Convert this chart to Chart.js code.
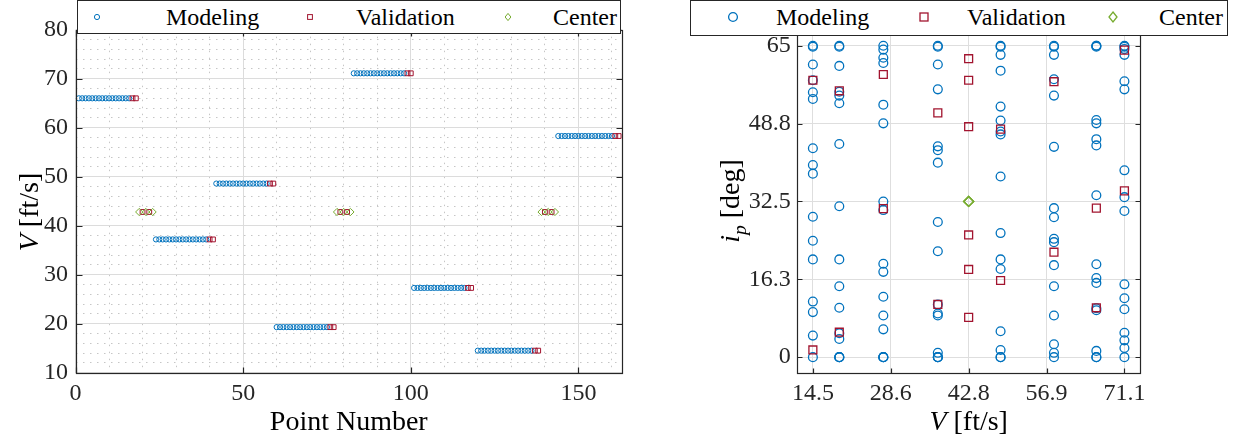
<!DOCTYPE html>
<html>
<head>
<meta charset="utf-8">
<script src="https://cdn.jsdelivr.net/npm/chart.js@4.4.1/dist/chart.umd.min.js"></script>
<style>
  html, body { margin: 0; padding: 0; background: #fff; }
  body { position: relative; width: 1238px; height: 444px; overflow: hidden; font-family: "Liberation Serif", serif; }
  canvas { position: absolute; top: 0; }
  #leftChart { left: 0; }
  #rightChart { left: 680px; }
  .legend { position: absolute; top: 0; box-sizing: border-box; border: 1.3px solid #262626; background: #fff; }
  .legend svg { position: absolute; overflow: visible; }
  .legend span { position: absolute; font-size: 24px; line-height: 24px; color: #000; white-space: nowrap; }
</style>
</head>
<body>
<canvas id="leftChart" width="640" height="444"></canvas>
<canvas id="rightChart" width="558" height="444"></canvas>
<div class="legend" id="legendLeft" style="left:77px;width:544px;height:34px;"></div>
<div class="legend" id="legendRight" style="left:690px;width:538px;height:36px;"></div>
<script>
// ---- DATA ----
const leftXTicks = [0, 50, 100, 150];
const leftYTicks = [10, 20, 30, 40, 50, 60, 70, 80];
const leftXMinor = [10, 20, 30, 40, 60, 70, 80, 90, 110, 120, 130, 140, 160];
const leftYMinor = [12, 14, 16, 18, 22, 24, 26, 28, 32, 34, 36, 38, 42, 44, 46, 48,
  52, 54, 56, 58, 62, 64, 66, 68, 72, 74, 76, 78];
const rightXTicks = [14.5, 28.65, 42.8, 56.95, 71.1];
const rightXLabels = ["14.5", "28.6", "42.8", "56.9", "71.1"];
const rightYTicks = [0, 16.25, 32.5, 48.75, 65];
const rightYLabels = ["0", "16.3", "32.5", "48.8", "65"];

// run order of the test blocks (left chart)
const blockV = [66.0, 37.2, 48.6, 19.3, 71.1, 27.3, 14.5, 58.3];
const blockModelFirst = [1, 24, 42, 60, 83, 101, 120, 144];
const blockModelLast = [16, 39, 57, 75, 98, 116, 136, 160];
const blockValidPts = [[17, 18], [40, 41], [58, 59], [76, 77], [99, 100], [117, 118], [137, 138], [161, 162]];
const centerV = 42.8;
const centerPts = [19, 21, 23, 78, 80, 82, 139, 141, 143];
const centerValidPts = [20, 22, 79, 81, 140, 142];

// propeller incidence per speed (right chart)
const speedLevels = [14.5, 19.3, 27.3, 37.2, 48.6, 58.3, 66.0, 71.1];
const modelIp = [
  [65, 64.8, 61.1, 57.8, 55.3, 53.9, 43.6, 40.1, 38.3, 29.3, 24.3, 20.4, 11.6, 9.4, 4.5, 0],
  [65, 64.8, 60.8, 55.4, 54.6, 53.0, 44.5, 31.5, 20.4, 14.8, 10.3, 5.0, 3.8, 0, 0, 0],
  [65, 64.2, 62.5, 61.4, 52.7, 48.8, 32.5, 30.7, 19.5, 17.8, 12.6, 8.7, 5.8, 0, 0, 0],
  [65, 64.8, 61.1, 55.9, 44.0, 43.2, 40.6, 28.2, 22.1, 11.0, 9.1, 8.7, 0.9, 0, 0, 0],
  [65, 64.8, 63.1, 59.8, 52.3, 49.4, 47.1, 46.5, 37.7, 25.9, 20.4, 18.4, 5.4, 1.5, 0, 0],
  [65, 64.8, 63.1, 58.0, 54.6, 43.9, 31.1, 29.2, 24.7, 24.0, 19.2, 14.8, 8.7, 2.7, 0.9, 0],
  [65, 65, 64.8, 49.5, 48.8, 45.5, 44.2, 33.8, 19.4, 16.5, 15.5, 10.2, 9.8, 1.3, 0, 0],
  [65, 64.8, 64.3, 63.1, 57.6, 55.9, 39.0, 33.4, 30.5, 15.2, 12.3, 10.0, 5.1, 3.5, 1.9, 0],
];
const validIp = [[57.8, 1.5], [55.6, 5.2], [59.0, 31.0], [51.0, 11.0], [47.6, 16.0], [57.5, 21.9], [31.1, 10.3], [64.1, 34.7]];
const centerIp = [32.5, 32.5, 32.5];
const centerValidIp = [62.3, 57.8, 48.1, 25.5, 18.3, 8.3];

const BLUE = "#0072BD", RED = "#A2142F", GREEN = "#77AC30";
const INK = "#262626";
const FONT = '"Liberation Serif", serif';

// ---- build point lists ----
const leftModel = [];
blockV.forEach((v, b) => {
  for (let p = blockModelFirst[b]; p <= blockModelLast[b]; p++) leftModel.push({ x: p, y: v });
});
const leftValid = [];
blockValidPts.forEach((pts, b) => pts.forEach((p) => leftValid.push({ x: p, y: blockV[b] })));
centerValidPts.forEach((p) => leftValid.push({ x: p, y: centerV }));
const leftCenter = centerPts.map((p) => ({ x: p, y: centerV }));

const rightModel = [];
speedLevels.forEach((v, i) => modelIp[i].forEach((ip) => rightModel.push({ x: v, y: ip })));
const rightValid = [];
speedLevels.forEach((v, i) => validIp[i].forEach((ip) => rightValid.push({ x: v, y: ip })));
centerValidIp.forEach((ip) => rightValid.push({ x: centerV, y: ip }));
const rightCenter = centerIp.map((ip) => ({ x: centerV, y: ip }));

// ---- helpers ----
const setTicks = (values) => (scale) => {
  scale.ticks = values.map((v) => ({ value: v }));
};

function drawRich(ctx, pieces, size) {
  let total = 0;
  const fontOf = (p) => `${p.italic ? "italic " : ""}${p.sub ? size * 0.7 : size}px ${FONT}`;
  pieces.forEach((p) => {
    ctx.font = fontOf(p);
    p.w = ctx.measureText(p.text).width;
    total += p.w;
  });
  let x = -total / 2;
  pieces.forEach((p) => {
    ctx.font = fontOf(p);
    ctx.fillText(p.text, x, p.sub ? size * 0.3 : 0);
    x += p.w;
  });
}

// box, inward ticks and axis titles
const framePlugin = {
  id: "frame",
  afterDatasetsDraw(chart, args, opts) {
    const { ctx, chartArea: a, scales } = chart;
    const L = Math.round(a.left) + 0.5, R = Math.round(a.right) + 0.5;
    const T = Math.round(a.top) + 0.5, B = Math.round(a.bottom) + 0.5;
    ctx.save();
    ctx.strokeStyle = INK;
    ctx.lineWidth = 1.2;
    ctx.strokeRect(L, T, R - L, B - T);
    const tl = opts.tickLen;
    ctx.beginPath();
    scales.x.ticks.forEach((t) => {
      const px = Math.round(scales.x.getPixelForValue(t.value)) + 0.5;
      ctx.moveTo(px, B); ctx.lineTo(px, B - tl);
      ctx.moveTo(px, T); ctx.lineTo(px, T + tl);
    });
    scales.y.ticks.forEach((t) => {
      const py = Math.round(scales.y.getPixelForValue(t.value)) + 0.5;
      ctx.moveTo(L, py); ctx.lineTo(L + tl, py);
      ctx.moveTo(R, py); ctx.lineTo(R - tl, py);
    });
    ctx.stroke();
    ctx.restore();
  },
  afterDraw(chart, args, opts) {
    const { ctx, chartArea: a } = chart;
    ctx.save();
    ctx.fillStyle = "#000";
    ctx.textBaseline = "middle";
    ctx.textAlign = "left";
    ctx.save();
    ctx.translate((a.left + a.right) / 2, opts.xTitleY);
    drawRich(ctx, opts.xTitle, opts.titleSize);
    ctx.restore();
    ctx.save();
    ctx.translate(opts.yTitleX, opts.yTitleY);
    ctx.rotate(-Math.PI / 2);
    drawRich(ctx, opts.yTitle, opts.titleSize);
    ctx.restore();
    ctx.restore();
  },
};

const tickFont = { family: FONT, size: 24 };

function series(label, data, style, color, radius, width, order) {
  return {
    label, data, order,
    pointStyle: style,
    pointRadius: radius,
    pointBorderWidth: width,
    pointBorderColor: color,
    pointBackgroundColor: "rgba(0,0,0,0)",
    showLine: false,
    clip: false,
    xAxisID: "x",
    yAxisID: "y",
  };
}

// ---- LEFT: V vs point number ----
new Chart(document.getElementById("leftChart"), {
  type: "scatter",
  data: {
    datasets: [
      series("Modeling", leftModel, "circle", BLUE, 2.6, 1, 2),
      series("Validation", leftValid, "rect", RED, 3.4, 1, 1),
      series("Center", leftCenter, "rectRot", GREEN, 3.6, 1, 0),
    ],
  },
  options: {
    responsive: false,
    animation: false,
    events: [],
    layout: { padding: { top: 29.7, right: 18, left: 0, bottom: 0 } },
    plugins: {
      legend: { display: false },
      tooltip: { enabled: false },
      frame: {
        tickLen: 6,
        titleSize: 28,
        xTitle: [{ text: "Point Number" }],
        xTitleY: 423,
        yTitle: [{ text: "V", italic: true }, { text: " [ft/s]" }],
        yTitleX: 31,
        yTitleY: 212,
      },
    },
    scales: {
      x: {
        type: "linear", min: 0, max: 163,
        afterBuildTicks: setTicks(leftXTicks),
        afterFit: (s) => { s.height = 71.3; },
        grid: { color: "#dcdcdc", lineWidth: 1, drawTicks: false },
        border: { display: false },
        ticks: { font: tickFont, color: INK, padding: 7, maxRotation: 0, autoSkip: false },
      },
      xMinor: {
        type: "linear", position: "bottom", min: 0, max: 163,
        afterBuildTicks: setTicks(leftXMinor),
        afterFit: (s) => { s.height = 0; },
        grid: { color: "#c6c6c6", lineWidth: 1, drawTicks: false },
        border: { display: false, dash: [1.5, 5.5] },
        ticks: { display: false },
      },
      y: {
        type: "linear", min: 10, max: 80,
        afterBuildTicks: setTicks(leftYTicks),
        afterFit: (s) => { s.width = 75.5; },
        grid: { color: "#dcdcdc", lineWidth: 1, drawTicks: false },
        border: { display: false },
        ticks: { font: tickFont, color: INK, padding: 7.5, autoSkip: false },
      },
      yMinor: {
        type: "linear", position: "left", min: 10, max: 80,
        afterBuildTicks: setTicks(leftYMinor),
        afterFit: (s) => { s.width = 0; },
        grid: { color: "#c6c6c6", lineWidth: 1, drawTicks: false },
        border: { display: false, dash: [1.5, 5.5] },
        ticks: { display: false },
      },
    },
  },
  plugins: [framePlugin],
});

// ---- RIGHT: incidence vs V ----
new Chart(document.getElementById("rightChart"), {
  type: "scatter",
  data: {
    datasets: [
      series("Modeling", rightModel, "circle", BLUE, 4.4, 1.3, 2),
      series("Validation", rightValid, "rect", RED, 5.6, 1.3, 1),
      series("Center", rightCenter, "rectRot", GREEN, 5, 1.3, 0),
    ],
  },
  options: {
    responsive: false,
    animation: false,
    events: [],
    layout: { padding: { top: 30.2, right: 98, left: 0, bottom: 0 } },
    plugins: {
      legend: { display: false },
      tooltip: { enabled: false },
      frame: {
        tickLen: 5,
        titleSize: 28,
        xTitle: [{ text: "V", italic: true }, { text: " [ft/s]" }],
        xTitleY: 423,
        yTitle: [{ text: "i", italic: true }, { text: "p", italic: true, sub: true }, { text: " [deg]" }],
        yTitleX: 52,
        yTitleY: 201,
      },
    },
    scales: {
      x: {
        type: "linear", min: 11.67, max: 73.93,
        afterBuildTicks: setTicks(rightXTicks),
        afterFit: (s) => { s.height = 71.3; },
        grid: { color: "#dedede", lineWidth: 1, drawTicks: false },
        border: { display: false },
        ticks: {
          font: tickFont, color: INK, padding: 7, maxRotation: 0, autoSkip: false,
          callback: (v, i) => rightXLabels[i],
        },
      },
      y: {
        type: "linear", min: -3.25, max: 68.25,
        afterBuildTicks: setTicks(rightYTicks),
        afterFit: (s) => { s.width = 117.3; },
        grid: { color: "#dedede", lineWidth: 1, drawTicks: false },
        border: { display: false },
        ticks: {
          font: tickFont, color: INK, padding: 6.5, autoSkip: false,
          callback: (v, i) => rightYLabels[i],
        },
      },
    },
  },
  plugins: [framePlugin],
});

// ---- LEGENDS ----
function markerSvg(style, color, size, width) {
  let shape;
  if (style === "circle") {
    shape = `<circle cx="0" cy="0" r="${size}" fill="none" stroke="${color}" stroke-width="${width}"/>`;
  } else if (style === "rect") {
    shape = `<rect x="${-size}" y="${-size}" width="${2 * size}" height="${2 * size}" fill="none" stroke="${color}" stroke-width="${width}"/>`;
  } else {
    shape = `<polygon points="0,${-size} ${size * 0.8},0 0,${size} ${-size * 0.8},0" fill="none" stroke="${color}" stroke-width="${width}"/>`;
  }
  return shape;
}

function buildLegend(el, items, midY) {
  items.forEach((it) => {
    const svg = document.createElementNS("http://www.w3.org/2000/svg", "svg");
    svg.setAttribute("width", "1");
    svg.setAttribute("height", "1");
    svg.style.left = it.mx + "px";
    svg.style.top = midY + "px";
    svg.innerHTML = markerSvg(it.style, it.color, it.size, it.width);
    el.appendChild(svg);
    const span = document.createElement("span");
    span.textContent = it.label;
    span.style.left = it.tx + "px";
    span.style.top = midY - 12 + "px";
    el.appendChild(span);
  });
}

buildLegend(document.getElementById("legendLeft"), [
  { label: "Modeling", style: "circle", color: BLUE, size: 2.6, width: 1, mx: 19, tx: 88 },
  { label: "Validation", style: "rect", color: RED, size: 2.4, width: 1, mx: 232, tx: 278 },
  { label: "Center", style: "diamond", color: GREEN, size: 3.6, width: 1, mx: 430, tx: 475 },
], 16);

buildLegend(document.getElementById("legendRight"), [
  { label: "Modeling", style: "circle", color: BLUE, size: 4.4, width: 1.3, mx: 42, tx: 85 },
  { label: "Validation", style: "rect", color: RED, size: 4, width: 1.3, mx: 233, tx: 276 },
  { label: "Center", style: "diamond", color: GREEN, size: 5, width: 1.3, mx: 422, tx: 468 },
], 16);
</script>
</body>
</html>
